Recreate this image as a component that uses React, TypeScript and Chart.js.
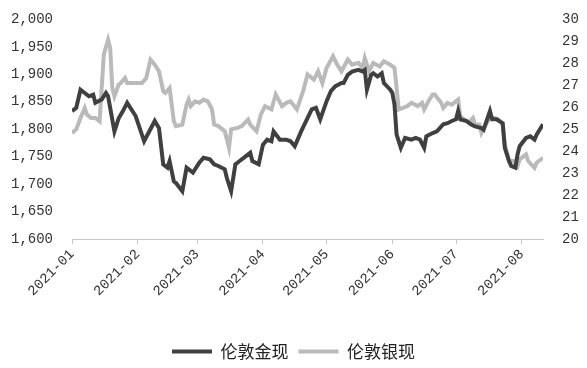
import React, { useEffect, useRef } from "react";
import { Chart, registerables } from "chart.js";

Chart.register(...registerables);

// Days since 2021-01-01
const goldDays = [0, 2, 4, 6, 8, 10, 11, 14, 16, 17, 18, 20, 22, 24, 26, 30, 34, 39, 41, 43, 45, 46, 48, 49, 52, 54, 57, 60, 62, 65, 67, 69, 72, 73, 75, 77, 79, 82, 84, 85, 88, 90, 92, 94, 95, 98, 101, 103, 105, 108, 111, 113, 115, 117, 120, 122, 124, 127, 128, 130, 132, 135, 137, 138, 139, 141, 142, 144, 146, 147, 150, 151, 152, 153, 155, 157, 160, 162, 164, 166, 167, 170, 172, 175, 177, 179, 181, 182, 183, 186, 188, 190, 193, 194, 197, 198, 200, 203, 204, 206, 207, 209, 210, 211, 214, 216, 218, 219, 222];
const goldValues = [1833, 1839, 1872, 1866, 1860, 1863, 1848, 1854, 1866, 1860, 1839, 1796, 1820, 1833, 1848, 1824, 1778, 1815, 1802, 1736, 1730, 1742, 1705, 1702, 1687, 1730, 1721, 1739, 1748, 1745, 1736, 1733, 1727, 1711, 1687, 1736, 1742, 1751, 1757, 1742, 1736, 1772, 1781, 1778, 1796, 1781, 1781, 1778, 1769, 1796, 1820, 1836, 1839, 1818, 1851, 1869, 1878, 1884, 1884, 1899, 1905, 1908, 1905, 1908, 1872, 1899, 1902, 1896, 1902, 1884, 1872, 1866, 1845, 1790, 1766, 1784, 1781, 1784, 1781, 1766, 1787, 1793, 1796, 1809, 1811, 1815, 1818, 1833, 1818, 1815, 1809, 1805, 1802, 1799, 1833, 1818, 1818, 1811, 1766, 1742, 1733, 1730, 1754, 1769, 1784, 1787, 1781, 1790, 1809];

const silverDays = [0, 2, 4, 6, 7, 9, 11, 13, 14, 15, 17, 18, 19, 20, 22, 23, 25, 26, 30, 33, 35, 37, 39, 41, 43, 44, 46, 48, 49, 52, 54, 55, 56, 58, 60, 62, 64, 66, 67, 69, 72, 74, 75, 78, 80, 83, 84, 87, 89, 91, 94, 96, 99, 101, 103, 106, 109, 111, 114, 116, 118, 120, 123, 125, 127, 130, 132, 135, 137, 138, 140, 142, 145, 147, 150, 152, 153, 154, 156, 158, 160, 163, 165, 166, 168, 170, 171, 174, 175, 177, 179, 182, 183, 185, 187, 189, 190, 192, 193, 195, 197, 199, 201, 203, 204, 206, 208, 210, 211, 214, 215, 218, 219, 222];
const silverValues = [24.83, 24.99, 25.51, 25.97, 25.67, 25.51, 25.51, 25.36, 26.88, 28.4, 29.08, 28.7, 26.88, 26.5, 27.03, 27.1, 27.33, 27.1, 27.1, 27.1, 27.33, 28.17, 27.94, 27.64, 26.73, 26.65, 26.88, 25.36, 25.14, 25.21, 26.12, 26.35, 26.05, 26.27, 26.2, 26.35, 26.27, 25.9, 25.21, 25.14, 24.91, 24.15, 24.99, 25.06, 25.14, 25.44, 25.21, 24.91, 25.67, 26.05, 25.9, 26.58, 26.05, 26.2, 26.27, 25.9, 26.75, 27.49, 27.26, 27.64, 27.1, 27.79, 28.32, 27.94, 27.64, 28.17, 27.94, 28.02, 27.79, 28.24, 27.64, 28.02, 27.86, 28.09, 27.94, 27.79, 26.88, 25.9, 25.97, 26.05, 26.2, 26.05, 26.2, 25.9, 26.27, 26.58, 26.58, 26.2, 25.97, 26.2, 26.12, 26.35, 25.59, 25.44, 25.29, 25.51, 25.21, 25.21, 24.83, 25.21, 25.51, 25.51, 25.44, 25.21, 24.3, 23.55, 23.55, 23.32, 23.62, 23.85, 23.55, 23.24, 23.47, 23.7];

const monthTickDays = [0, 31, 59, 90, 120, 151, 181, 212];
const monthTickLabels = ["2021-01", "2021-02", "2021-03", "2021-04", "2021-05", "2021-06", "2021-07", "2021-08"];

const seriesNames = ["伦敦金现", "伦敦银现"];

const axisFont = { family: "'Liberation Mono', monospace", size: 14 };

export default function App() {
  const ref = useRef<HTMLCanvasElement | null>(null);
  useEffect(() => {
    if (!ref.current) return;
    const chart = new Chart(ref.current, {
      type: "line",
      data: {
        datasets: [
          {
            label: seriesNames[0],
            data: goldDays.map((d, i) => ({ x: d, y: goldValues[i] })),
            borderColor: "#404040",
            backgroundColor: "#404040",
            borderWidth: 4,
            pointRadius: 0,
            tension: 0,
            yAxisID: "y",
            order: 1,
          },
          {
            label: seriesNames[1],
            data: silverDays.map((d, i) => ({ x: d, y: silverValues[i] })),
            borderColor: "#bababa",
            backgroundColor: "#bababa",
            borderWidth: 4,
            pointRadius: 0,
            tension: 0,
            yAxisID: "y1",
            order: 2,
          },
        ],
      },
      options: {
        animation: false,
        responsive: true,
        maintainAspectRatio: false,
        layout: { padding: { top: 0, left: 0, right: 0, bottom: 0 } },
        plugins: {
          tooltip: { enabled: false },
          legend: {
            position: "bottom",
            labels: {
              usePointStyle: true,
              pointStyle: "line",
              pointStyleWidth: 40,
              padding: 10,
              color: "#222",
              font: { family: "'Noto Sans CJK SC', sans-serif", size: 17 },
            },
          },
        },
        scales: {
          x: {
            type: "linear",
            min: 0,
            max: 222,
            afterBuildTicks: (axis: any) => {
              axis.ticks = monthTickDays.map((v) => ({ value: v }));
            },
            afterFit: (axis: any) => {
              axis.height = 94;
            },
            ticks: {
              autoSkip: false,
              maxRotation: 45,
              minRotation: 45,
              padding: 2,
              color: "#333",
              font: axisFont,
              callback: (v: any) => {
                const i = monthTickDays.indexOf(Number(v));
                return i >= 0 ? monthTickLabels[i] : "";
              },
            },
            grid: {
              drawOnChartArea: false,
              drawTicks: true,
              tickLength: 5,
              color: "#c8c8c8",
            },
            border: { display: true, color: "#c8c8c8", width: 1 },
          },
          y: {
            position: "left",
            min: 1600,
            max: 2000,
            afterBuildTicks: (axis: any) => {
              const t = [];
              for (let v = 1600; v <= 2000; v += 50) t.push({ value: v });
              axis.ticks = t;
            },
            afterFit: (axis: any) => {
              axis.width = 64;
            },
            ticks: {
              autoSkip: false,
              padding: 19,
              color: "#333",
              font: axisFont,
              callback: (v: any) => Number(v).toLocaleString("en-US"),
            },
            grid: { display: false, drawTicks: false },
            border: { display: false },
          },
          y1: {
            position: "right",
            min: 20,
            max: 30,
            afterBuildTicks: (axis: any) => {
              const t = [];
              for (let v = 20; v <= 30; v += 1) t.push({ value: v });
              axis.ticks = t;
            },
            afterFit: (axis: any) => {
              axis.width = 36;
            },
            ticks: {
              autoSkip: false,
              padding: 19,
              color: "#333",
              font: axisFont,
            },
            grid: { display: false, drawTicks: false },
            border: { display: false },
          },
        },
      },
    });
    return () => chart.destroy();
  }, []);
  return (
    <div style={{ position: "relative", width: 571, height: 378, marginTop: -16 }}>
      <canvas ref={ref} />
    </div>
  );
}
